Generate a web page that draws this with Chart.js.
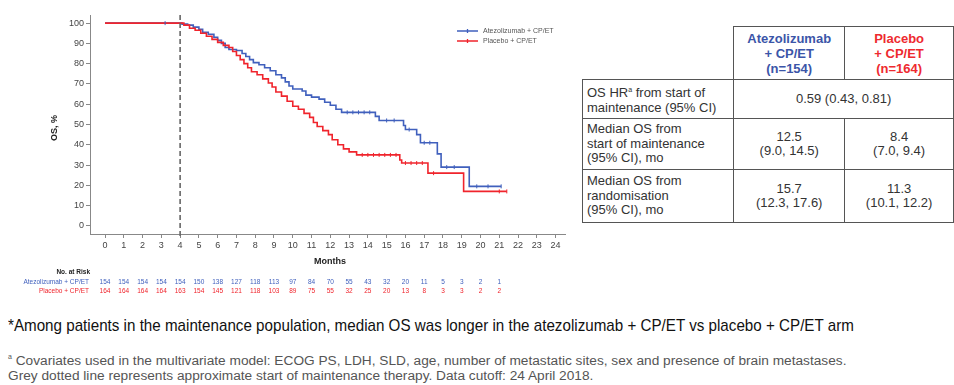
<!DOCTYPE html>
<html>
<head>
<meta charset="utf-8">
<script src="https://cdn.jsdelivr.net/npm/chart.js@4.4.1/dist/chart.umd.min.js"></script>
<style>
  body { margin: 0; background: #fff; width: 954px; height: 385px; overflow: hidden; position: relative; font-family: "Liberation Sans", Arial, sans-serif; }
  #wrap { position: absolute; left: 0; top: 0; width: 580px; height: 300px; }
  table.res { position: absolute; left: 582px; top: 26px; border-collapse: collapse; font-size: 13px; color: #333; }
  table.res td { border: 1.5px solid #555; padding: 0 4px; line-height: 14.5px; }
  table.res td.blank { border: none; }
  table.res td.c { text-align: center; }
  .hdr { font-weight: bold; text-align: center; line-height: 15px !important; }
  .star { position: absolute; left: 8px; top: 316px; font-family: "Liberation Sans", Arial, sans-serif; font-size: 17px; color: #111; white-space: nowrap; transform-origin: 0 0; transform: scaleX(0.893); }
  .foot { position: absolute; left: 8px; top: 349px; font-family: "Liberation Sans", Arial, sans-serif; font-size: 13.7px; color: #555; line-height: 15.5px; white-space: nowrap; }
</style>
</head>
<body>
<div id="wrap"><canvas id="km" width="580" height="300"></canvas></div>

<table class="res">
  <tr style="height:53px">
    <td class="blank" style="width:143px"></td>
    <td class="hdr" style="width:102px;color:#3b55a8">Atezolizumab<br>+ CP/ET<br>(n=154)</td>
    <td class="hdr" style="width:100px;color:#ee2a2f">Placebo<br>+ CP/ET<br>(n=164)</td>
  </tr>
  <tr style="height:39px">
    <td>OS HR<sup style="font-size:7px">a</sup> from start of<br>maintenance (95% CI)</td>
    <td class="c" colspan="2">0.59 (0.43, 0.81)</td>
  </tr>
  <tr style="height:51px">
    <td>Median OS from<br>start of maintenance<br>(95% CI), mo</td>
    <td class="c">12.5<br>(9.0, 14.5)</td>
    <td class="c">8.4<br>(7.0, 9.4)</td>
  </tr>
  <tr style="height:53px">
    <td>Median OS from<br>randomisation<br>(95% CI), mo</td>
    <td class="c">15.7<br>(12.3, 17.6)</td>
    <td class="c">11.3<br>(10.1, 12.2)</td>
  </tr>
</table>

<div class="star">*Among patients in the maintenance population, median OS was longer in the atezolizumab + CP/ET vs placebo + CP/ET arm</div>
<div class="foot"><sup style="font-size:7px">a</sup> Covariates used in the multivariate model: ECOG PS, LDH, SLD, age, number of metastatic sites, sex and presence of brain metastases.<br>Grey dotted line represents approximate start of maintenance therapy. Data cutoff: 24 April 2018.</div>

<script>
const BLUE = '#4060bd';
const RED = '#f0242c';

// Kaplan-Meier steps (months, OS %)
const atezoMonths = [0, 4.1, 4.4, 4.7, 5.0, 5.2, 5.5, 5.8, 6.0, 6.2, 6.4, 6.6, 7.0, 7.3, 7.5, 7.7, 7.9, 8.2, 8.5, 8.8, 9.1, 9.4, 9.6, 9.8, 10.0, 10.5, 10.7, 11.0, 11.4, 11.7, 12.0, 12.3, 12.6, 14.4, 14.6, 15.9, 16.0, 16.6, 16.8, 17.7, 17.9, 19.4, 21.1];
const atezoOS = [100, 99.5, 99, 98, 97, 95.5, 94.5, 93, 91.5, 90, 88, 87, 86.5, 85, 83.5, 82, 80.5, 79.5, 78, 76.5, 74.5, 73, 71, 69, 67.5, 66.5, 64.5, 63.5, 62.5, 61, 59.5, 57.5, 56, 54, 52, 49.5, 47.5, 45, 41, 35.5, 29, 19.5, 19.5];

const placeboMonths = [0, 4.2, 4.5, 4.8, 5.1, 5.4, 5.7, 6.0, 6.3, 6.6, 6.8, 7.0, 7.2, 7.4, 7.6, 7.8, 8.1, 8.4, 8.7, 8.9, 9.1, 9.4, 9.7, 10.0, 10.3, 10.6, 10.9, 11.1, 11.3, 11.6, 11.9, 12.1, 12.4, 12.7, 13.0, 13.4, 15.7, 15.8, 17.2, 19.1, 21.4];
const placeboOS = [100, 99, 97.5, 96.5, 95, 93.5, 92, 90.5, 89, 88, 86, 84, 82, 80, 78, 76, 74.5, 72.5, 70.5, 68.5, 66, 64, 61.5, 59, 57.5, 55.5, 53.5, 51, 49, 47, 45, 42.5, 40, 38, 36.5, 35, 32.5, 31, 26, 17, 17];

// censor ticks
const atezoCensorMonths = [3.2, 12.9, 13.2, 13.5, 13.8, 14.1, 15.0, 15.4, 16.2, 17.0, 17.3, 18.2, 18.6, 19.8, 20.4, 21.1];
const atezoCensorOS = [100, 56, 56, 56, 56, 56, 52, 52, 47.5, 41, 41, 29, 29, 19.5, 19.5, 19.5];
const placeboCensorMonths = [13.7, 14.0, 14.3, 14.6, 14.9, 15.2, 15.5, 16.0, 16.3, 16.6, 16.9, 17.5, 21.0, 21.4];
const placeboCensorOS = [35, 35, 35, 35, 35, 35, 35, 31, 31, 31, 31, 26, 17, 17];

const monthTicks = [0, 1, 2, 3, 4, 5, 6, 7, 8, 9, 10, 11, 12, 13, 14, 15, 16, 17, 18, 19, 20, 21, 22, 23, 24];
const osTicks = [0, 10, 20, 30, 40, 50, 60, 70, 80, 90, 100];

const riskAtezo = [154, 154, 154, 154, 154, 150, 138, 127, 118, 113, 97, 84, 70, 55, 43, 32, 20, 11, 5, 3, 2, 1];
const riskPlacebo = [164, 164, 164, 164, 163, 154, 145, 121, 118, 103, 89, 75, 55, 32, 25, 20, 13, 8, 3, 3, 2, 2];

const armLabels = ['Atezolizumab + CP/ET', 'Placebo + CP/ET'];
const maintenanceStart = 4;

function pts(xs, ys) {
    return xs.map((x, i) => ({ x: x, y: ys[i] }));
}

const extras = {
    id: 'extras',
    afterDraw(chart) {
        const ctx = chart.ctx;
        const xs = chart.scales.x;
        ctx.save();
        // y title
        ctx.fillStyle = '#222';
        ctx.font = 'bold 9px "Liberation Sans", Arial, sans-serif';
        ctx.textAlign = 'center';
        ctx.textBaseline = 'middle';
        ctx.save();
        ctx.translate(55, 128);
        ctx.rotate(-Math.PI / 2);
        ctx.fillText('OS, %', 0, 0);
        ctx.restore();
        // x title
        ctx.fillText('Months', 330, 262);

        // legend
        const lx = 457;
        [[BLUE, armLabels[0], 31], [RED, armLabels[1], 41]].forEach(([c, t, y]) => {
            ctx.strokeStyle = c;
            ctx.lineWidth = 1.3;
            ctx.beginPath();
            ctx.moveTo(lx, y); ctx.lineTo(lx + 21, y);
            ctx.moveTo(lx + 10.5, y - 2); ctx.lineTo(lx + 10.5, y + 2);
            ctx.stroke();
            ctx.fillStyle = '#555';
            ctx.font = '7px "Liberation Sans", Arial, sans-serif';
            ctx.textAlign = 'left';
            ctx.fillText(t, lx + 26, y);
        });

        // number at risk
        ctx.fillStyle = '#222';
        ctx.font = 'bold 6.5px "Liberation Sans", Arial, sans-serif';
        ctx.textAlign = 'right';
        ctx.fillText('No. at Risk', 90, 272);
        ctx.font = '6.5px "Liberation Sans", Arial, sans-serif';
        [[riskAtezo, BLUE, armLabels[0], 282], [riskPlacebo, RED, armLabels[1], 291]].forEach(([arr, c, t, y]) => {
            ctx.fillStyle = c;
            ctx.textAlign = 'right';
            ctx.fillText(t, 89, y);
            ctx.textAlign = 'center';
            arr.forEach((n, i) => ctx.fillText(String(n), xs.getPixelForValue(i), y));
        });
        ctx.restore();
    }
};

new Chart(document.getElementById('km'), {
    type: 'line',
    data: {
        datasets: [
            {
                label: armLabels[0],
                data: pts(atezoMonths, atezoOS),
                borderColor: BLUE, borderWidth: 1.6, stepped: true,
                pointRadius: 0, order: 2
            },
            {
                label: armLabels[1],
                data: pts(placeboMonths, placeboOS),
                borderColor: RED, borderWidth: 1.6, stepped: true,
                pointRadius: 0, order: 1
            },
            {
                label: 'censor-a',
                data: pts(atezoCensorMonths, atezoCensorOS),
                showLine: false, pointStyle: 'line', rotation: 90,
                pointRadius: 2, borderColor: BLUE, borderWidth: 1
            },
            {
                label: 'censor-p',
                data: pts(placeboCensorMonths, placeboCensorOS),
                showLine: false, pointStyle: 'line', rotation: 90,
                pointRadius: 2, borderColor: RED, borderWidth: 1
            },
            {
                label: 'maintenance',
                data: [{ x: maintenanceStart, y: -5 }, { x: maintenanceStart, y: 104 }],
                borderColor: '#666', borderWidth: 1.6, borderDash: [5, 3],
                pointRadius: 0, clip: false
            }
        ]
    },
    options: {
        responsive: false,
        animation: false,
        layout: { padding: { left: 0, top: 15, right: 15, bottom: 0 } },
        plugins: { legend: { display: false }, tooltip: { enabled: false } },
        scales: {
            x: {
                type: 'linear', min: -0.8, max: 24.5,
                afterBuildTicks: s => { s.ticks = monthTicks.map(v => ({ value: v })); },
                afterFit: s => { s.height = 66; },
                grid: { drawOnChartArea: false, tickLength: 4, color: '#888' },
                border: { color: '#888', width: 1 },
                ticks: { color: '#444', font: { size: 9, family: '"Liberation Sans", Arial' }, padding: 2, maxRotation: 0, autoSkip: false }
            },
            y: {
                type: 'linear', min: -4, max: 104,
                afterBuildTicks: s => { s.ticks = osTicks.map(v => ({ value: v })); },
                afterFit: s => { s.width = 90; },
                grid: { drawOnChartArea: false, tickLength: 4, color: '#888' },
                border: { color: '#888', width: 1 },
                ticks: { color: '#444', font: { size: 9, family: '"Liberation Sans", Arial' }, padding: 2 }
            }
        }
    },
    plugins: [extras]
});
</script>
</body>
</html>
